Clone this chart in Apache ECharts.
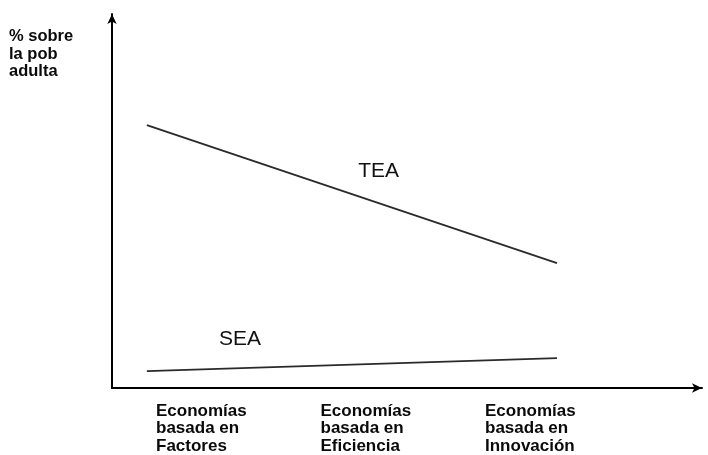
<!DOCTYPE html>
<html>
<head>
<meta charset="utf-8">
<script src="https://cdn.jsdelivr.net/npm/echarts@6/dist/echarts.min.js"></script>
<style>html,body{margin:0;padding:0;background:#fff}#c{width:708px;height:455px}</style>
</head>
<body>
<div id="c"></div>
<script>
const categories = ['Economías\nbasada en\nFactores', 'Economías\nbasada en\nEficiencia', 'Economías\nbasada en\nInnovación'];
const stagePos = [0, 2];          // from Factores-driven to Innovation-driven
const teaValues = [70.3, 33.4];
const seaValues = [4.5, 8.0];
const yTitle = '% sobre\nla pob\nadulta';

const FONT = 'Liberation Sans, Arial, sans-serif';
const chart = echarts.init(document.getElementById('c'));
chart.setOption({
  animation: false,
  backgroundColor: '#fff',
  title: {
    text: yTitle, left: 9, top: 28, padding: 0,
    textStyle: { fontFamily: FONT, fontSize: 16.5, fontWeight: 'bold', lineHeight: 17.5, color: '#0a0a0a' }
  },
  grid: [
    { left: 112, right: 6, top: 14, bottom: 67 },
    { left: 156, right: 223, top: 14, bottom: 67 }
  ],
  xAxis: [
    {
      type: 'value', gridIndex: 0, min: -0.17, max: 2.707,
      axisLine: { show: true, onZero: false, lineStyle: { color: '#000', width: 2 }, symbol: ['none', 'arrow'], symbolSize: [7, 10] },
      axisTick: { show: false }, axisLabel: { show: false }, splitLine: { show: false }
    },
    {
      type: 'category', gridIndex: 1, data: categories, boundaryGap: false,
      axisLine: { show: false }, axisTick: { show: false }, splitLine: { show: false },
      axisLabel: {
        show: true, interval: 0, align: 'left', verticalAlign: 'top', margin: 17,
        fontFamily: FONT, fontSize: 17, fontWeight: 'bold', lineHeight: 17.5, color: '#0a0a0a'
      }
    }
  ],
  yAxis: [
    {
      type: 'value', gridIndex: 0, min: 0, max: 100,
      axisLine: { show: true, onZero: false, lineStyle: { color: '#000', width: 2 }, symbol: ['none', 'arrow'], symbolSize: [7, 10] },
      axisTick: { show: false }, axisLabel: { show: false }, splitLine: { show: false }
    },
    {
      type: 'value', gridIndex: 1, min: 0, max: 100, show: false
    }
  ],
  series: [
    {
      name: 'TEA', type: 'line', xAxisIndex: 0, yAxisIndex: 0,
      data: stagePos.map((x, i) => [x, teaValues[i]]),
      symbol: 'none', lineStyle: { color: '#2a2a2a', width: 1.8 },
      markPoint: {
        symbol: 'circle', symbolSize: 1, itemStyle: { color: 'rgba(0,0,0,0)' },
        label: { show: true, position: 'inside', formatter: 'TEA', fontFamily: FONT, fontSize: 21, color: '#111' },
        data: [{ coord: [1.13, 58.0] }]
      }
    },
    {
      name: 'SEA', type: 'line', xAxisIndex: 0, yAxisIndex: 0,
      data: stagePos.map((x, i) => [x, seaValues[i]]),
      symbol: 'none', lineStyle: { color: '#2a2a2a', width: 1.6 },
      markPoint: {
        symbol: 'circle', symbolSize: 1, itemStyle: { color: 'rgba(0,0,0,0)' },
        label: { show: true, position: 'inside', formatter: 'SEA', fontFamily: FONT, fontSize: 21, color: '#111' },
        data: [{ coord: [0.454, 13.1] }]
      }
    }
  ]
});
</script>
</body>
</html>
